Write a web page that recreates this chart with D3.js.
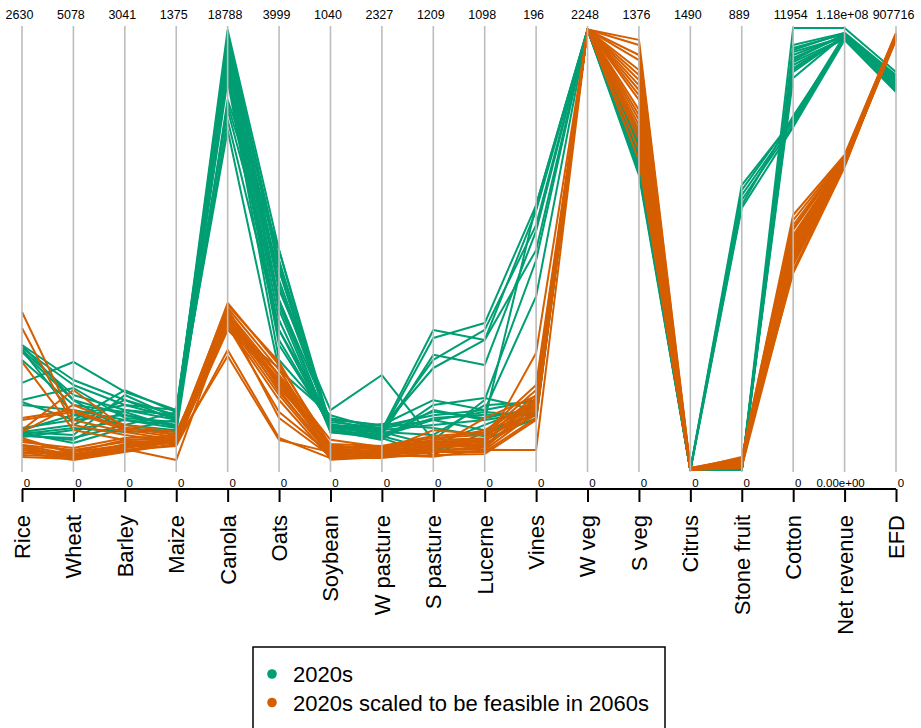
<!DOCTYPE html>
<html>
<head>
<meta charset="utf-8">
<script src="https://cdn.jsdelivr.net/npm/d3@7"></script>
<style>
  html, body { margin: 0; padding: 0; background: #ffffff; }
  svg { display: block; font-family: "Liberation Sans", Arial, sans-serif; }
</style>
</head>
<body>
<svg id="chart" width="921" height="728"></svg>
<script>
// Land-use dimensions shown as parallel axes
const dimensions = ["Rice", "Wheat", "Barley", "Maize", "Canola", "Oats", "Soybean",
  "W pasture", "S pasture", "Lucerne", "Vines", "W veg", "S veg", "Citrus",
  "Stone fruit", "Cotton", "Net revenue", "EFD"];

// Upper limit of each axis (lower limit is 0)
const axisMax = [2630, 5078, 3041, 1375, 18788, 3999, 1040, 2327, 1209, 1098, 196,
  2248, 1376, 1490, 889, 11954, 1.18e8, 907716];

const topTickLabels = ["2630", "5078", "3041", "1375", "18788", "3999", "1040", "2327",
  "1209", "1098", "196", "2248", "1376", "1490", "889", "11954", "1.18e+08", "907716"];
const bottomTickLabels = ["0", "0", "0", "0", "0", "0", "0", "0", "0", "0", "0", "0",
  "0", "0", "0", "0", "0.00e+00", "0"];

const seriesNames = ["2020s", "2020s scaled to be feasible in 2060s"];
const seriesColors = ["#009E73", "#D55E00"];

// Portfolios in the 2020s
const portfolios2020s = [
  [744, 1034, 482, 171, 18703, 1991, 106, 211, 383, 323, 115, 2240, 928, 0, 0, 11954, 1.18e8, 817400],
  [726, 977, 447, 162, 18491, 1900, 99, 200, 361, 365, 117.5, 2240, 940, 0, 0, 11494, 1.167e8, 811200],
  [714, 862, 413, 156, 18278, 1810, 94, 184, 315, 261, 106, 2240, 965, 0, 563, 9520, 1.161e8, 805000],
  [702, 804, 378, 140, 18065, 1719, 113, 221, 279, 323, 97.5, 2240, 996, 0, 0, 11224, 1.159e8, 801000],
  [518, 1241, 537, 187, 17853, 1629, 141, 500, 82, 174, 93, 2240, 1012, 0, 573, 9466, 1.153e8, 796800],
  [405, 574, 550, 180, 17640, 1538, 118, 237, 191, 149, 77, 2240, 1027, 0, 0, 11088, 1.164e8, 792700],
  [387, 689, 344, 131, 17428, 1448, 89, 168, 164, 124, 117.5, 2240, 1043, 0, 543, 9331, 1.156e8, 788600],
  [238, 632, 310, 124, 17215, 1357, 94, 158, 178, 179, 26.6, 2240, 1058, 0, 0, 10953, 1.151e8, 784500],
  [226, 517, 482, 156, 17003, 1267, 99, 200, 68, 112, 28.8, 2240, 934, 0, 0, 10818, 1.159e8, 780400],
  [208, 345, 413, 171, 16790, 1131, 106, 221, 137, 99, 24.4, 2240, 949, 0, 527, 9276, 1.148e8, 776300],
  [196, 460, 344, 140, 16578, 995, 122, 232, 150, 149, 31, 2240, 981, 0, 0, 10602, 1.161e8, 809200],
  [220, 310, 289, 118, 15728, 1991, 89, 179, 55, 75, 23, 2240, 959, 0, 0, 11359, 1.167e8, 801000],
  [744, 804, 275, 156, 15515, 1810, 104, 211, 123, 124, 25.7, 2240, 918, 0, 0, 11305, 1.156e8, 794800],
  [714, 632, 447, 187, 15303, 1538, 94, 168, 41, 94, 22.2, 2240, 971, 0, 553, 9412, 1.153e8, 790700],
  [417, 942, 358, 149, 14877, 1267, 118, 200, 96, 161, 30.2, 2240, 1002, 0, 0, 11143, 1.159e8, 786600],
  [226, 402, 516, 162, 14452, 905, 129, 211, 159, 129, 27.5, 2240, 990, 0, 0, 11034, 1.153e8, 782500],
  [250, 574, 378, 137, 18278, 1855, 89, 242, 115, 84, 28.4, 2240, 946, 0, 0, 11413, 1.164e8, 803000],
  [202, 368, 310, 180, 17853, 1674, 108, 190, 142, 137, 24.8, 2240, 1034, 0, 0, 10872, 1.156e8, 778300],
  [654, 747, 399, 131, 18065, 1493, 99, 211, 301, 348, 108.6, 2240, 1015, 0, 533, 9574, 1.151e8, 798900],
  [214, 483, 261, 124, 17215, 1176, 104, 179, 137, 144, 23.9, 2240, 965, 0, 0, 10764, 1.159e8, 788600]
];

// The same portfolios scaled down to be feasible in the 2060s
const portfoliosScaled2060s = [
  [940, 574, 261, 93, 7099, 950, 59, 105, 82, 79, 33.3, 2240, 1339, 7, 24, 6896, 8.41e7, 897500],
  [845, 517, 241, 87, 6886, 905, 52, 95, 68, 70, 31, 2240, 1323, 3, 20, 6626, 8.36e7, 895400],
  [643, 460, 206, 100, 6716, 860, 71, 121, 88, 87, 35.5, 2240, 1292, 7, 16, 6491, 8.33e7, 893400],
  [309, 689, 289, 109, 6589, 814, 47, 79, 60, 62, 26.6, 2240, 1245, 3, 24, 6220, 8.28e7, 891300],
  [298, 666, 275, 103, 6461, 769, 42, 84, 55, 55, 28.8, 2240, 1214, 0, 14, 6085, 8.25e7, 889300],
  [179, 207, 172, 93, 6376, 724, 35, 95, 66, 65, 24.4, 2240, 1167, 3, 10, 5950, 8.22e7, 887200],
  [149, 172, 151, 87, 6291, 679, 33, 74, 55, 50, 25.7, 2240, 1121, 0, 8, 5815, 8.20e7, 885100],
  [131, 161, 138, 78, 6164, 633, 28, 63, 49, 45, 23.1, 2240, 1090, 3, 12, 5679, 8.17e7, 883100],
  [119, 138, 158, 93, 6036, 923, 24, 68, 41, 40, 22.2, 2240, 1058, 7, 16, 5544, 8.14e7, 891300],
  [107, 115, 124, 81, 5951, 832, 56, 111, 77, 75, 27.5, 2240, 1027, 0, 6, 5409, 8.12e7, 889300],
  [89, 149, 179, 100, 6801, 742, 61, 126, 93, 94, 37.7, 2240, 996, 3, 20, 5328, 8.09e7, 893400],
  [77, 126, 138, 75, 5101, 290, 28, 79, 36, 50, 8.9, 2240, 965, 0, 4, 6356, 8.30e7, 887200],
  [149, 230, 193, 87, 4846, 271, 42, 105, 68, 60, 51.9, 2240, 1152, 3, 26, 6761, 8.38e7, 895400],
  [167, 253, 220, 106, 7014, 977, 47, 116, 82, 99, 31, 2240, 1276, 0, 18, 6545, 8.33e7, 885100],
  [190, 184, 165, 84, 6121, 525, 38, 95, 60, 129, 32.8, 2240, 1198, 7, 22, 6004, 8.22e7, 891300],
  [119, 172, 144, 31, 6376, 471, 33, 84, 49, 60, 26.6, 2240, 1074, 3, 14, 5734, 8.20e7, 887200],
  [143, 138, 131, 90, 6631, 706, 42, 100, 109, 89, 30.2, 2240, 1230, 0, 8, 6166, 8.25e7, 889300],
  [101, 207, 206, 96, 6504, 787, 52, 126, 74, 70, 31.9, 2240, 1105, 3, 12, 5625, 8.17e7, 893400],
  [226, 747, 310, 118, 6291, 796, 56, 116, 71, 75, 29.3, 2240, 1183, 0, 16, 6274, 8.28e7, 889300],
  [238, 919, 289, 112, 6546, 851, 49, 90, 63, 62, 28.4, 2240, 1043, 3, 10, 5896, 8.20e7, 885100]
];

const svg = d3.select("#chart");
const plotTop = 28, plotBottom = 470;

const x = d3.scalePoint().domain(dimensions).range([22, 896]);
const y = dimensions.map((d, i) =>
  d3.scaleLinear().domain([0, axisMax[i]]).range([plotBottom, plotTop]));

const line = d3.line()
  .x((v, i) => x(dimensions[i]))
  .y((v, i) => y[i](v));

// Polylines: one per portfolio, coloured by series
[portfolios2020s, portfoliosScaled2060s].forEach((rows, s) => {
  svg.append("g")
    .attr("fill", "none")
    .attr("stroke", seriesColors[s])
    .attr("stroke-width", 2)
    .attr("stroke-linejoin", "round")
    .selectAll("path")
    .data(rows)
    .join("path")
    .attr("d", line);
});

// Vertical grey axes
svg.append("g")
  .selectAll("line")
  .data(dimensions)
  .join("line")
  .attr("x1", d => x(d)).attr("x2", d => x(d))
  .attr("y1", plotTop - 2).attr("y2", plotBottom + 2)
  .attr("stroke", "#bdbdbd")
  .attr("stroke-width", 1.6);

// Upper-limit labels above each axis
svg.append("g")
  .selectAll("text")
  .data(dimensions)
  .join("text")
  .attr("x", d => x(d) - 2.5)
  .attr("y", 19)
  .attr("text-anchor", "middle")
  .attr("font-size", 12.5)
  .attr("fill", "#000")
  .text((d, i) => topTickLabels[i]);

// Lower-limit labels under each axis
svg.append("g")
  .selectAll("text")
  .data(dimensions)
  .join("text")
  .attr("x", (d, i) => x(d) + (bottomTickLabels[i].length > 1 ? -4 : 5))
  .attr("y", 487)
  .attr("text-anchor", "middle")
  .attr("font-size", bottomTickLabels.length ? 11.5 : 11.5)
  .attr("fill", "#000")
  .text((d, i) => bottomTickLabels[i]);

// Bottom axis with a tick at each dimension
const axisG = svg.append("g").attr("transform", "translate(0,489)");
axisG.call(d3.axisBottom(x).tickSize(13).tickFormat(""));
axisG.select(".domain").attr("d", `M${x(dimensions[0])},0H${x(dimensions[dimensions.length - 1])}`)
  .attr("stroke", "#000").attr("stroke-width", 2);
axisG.selectAll(".tick line").attr("stroke", "#000").attr("stroke-width", 2);

// Rotated dimension names
svg.append("g")
  .selectAll("text")
  .data(dimensions)
  .join("text")
  .attr("transform", d => `translate(${x(d)},515) rotate(-90)`)
  .attr("dy", "0.36em")
  .attr("text-anchor", "end")
  .attr("font-size", 22)
  .attr("fill", "#000")
  .text(d => d);

// Legend
const legend = svg.append("g");
legend.append("rect")
  .attr("x", 253).attr("y", 647)
  .attr("width", 412).attr("height", 100)
  .attr("fill", "#fff")
  .attr("stroke", "#000")
  .attr("stroke-width", 1.5);
seriesNames.forEach((name, i) => {
  legend.append("circle")
    .attr("cx", 272).attr("cy", 674 + i * 28.5)
    .attr("r", 4.8)
    .attr("fill", seriesColors[i]);
  legend.append("text")
    .attr("x", 293).attr("y", 682 + i * 28.5)
    .attr("font-size", 22)
    .attr("fill", "#000")
    .text(name);
});
</script>
</body>
</html>
